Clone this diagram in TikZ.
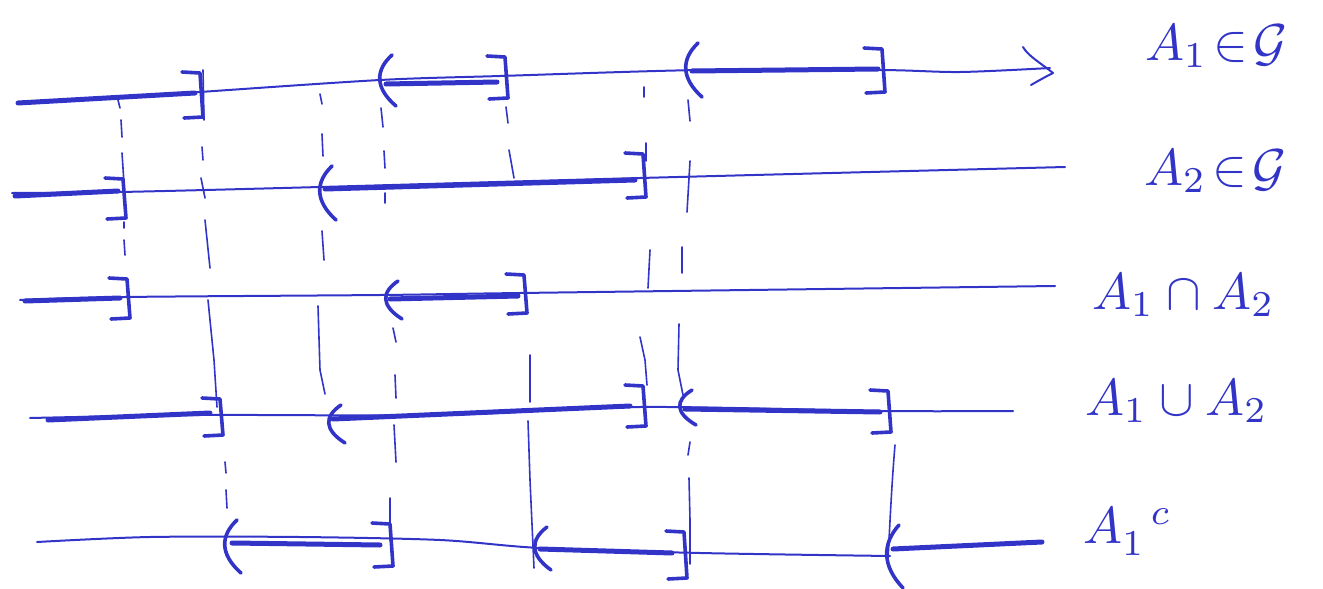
\documentclass[tikz,border=0pt]{standalone}
\usepackage{amsmath,amssymb}
\definecolor{ink}{RGB}{50,52,200}
\tikzset{
  base/.style={ink,line width=2pt,line cap=round,line join=round},
  heavy/.style={ink,line width=5pt,line cap=round,line join=round},
  brk/.style={ink,line width=3.6pt,line cap=round,line join=round},
  guide/.style={ink,line width=1.6pt,line cap=round,line join=round},
  lbl/.style={text=ink,inner sep=0pt,anchor=base west}
}
\newcommand\myrb[3]{\draw[brk] ({#1-18},#2) -- ({#1},{#2+1}) -- ({#1+3},#3) -- ({#1-16},{#3+1});}
\newcommand\mylb[3]{\draw[brk] ({#1+10},#2) .. controls ({#1-7},{#2+0.3*(#3-#2)}) and ({#1-7},{#2+0.65*(#3-#2)}) .. ({#1+14},#3);}
\newcommand\biglbl[1]{\scalebox{5.2}{$#1$}}
\begin{document}
\begin{tikzpicture}[x=1pt,y=-1pt]
\useasboundingbox (0,0) rectangle (1323,589);
% ---------- line 1 ----------
\draw[base] plot[smooth] coordinates {(18,103) (120,98) (200,92) (380,80) (500,76) (700,70) (880,70) (960,72) (1050,68)};
\draw[base] (1023,47) .. controls (1028,56) and (1042,64) .. (1053,73) .. controls (1045,77) and (1038,81) .. (1031,85);
\draw[heavy] (18,103) -- (195,93);
\draw[heavy] (386,84) -- (497,82);
\draw[heavy] (692,71) -- (878,69);
\myrb{200}{72}{117}
\draw[guide] (203,70) -- (204,120);
\mylb{382}{55}{106}
\myrb{505}{56}{98}
\mylb{688}{43}{97}
\myrb{882}{48}{92}
% ---------- line 2 ----------
\draw[base] plot[smooth] coordinates {(12,193) (120,192) (320,187) (640,178) (1065,167)};
\draw[heavy] (15,196) -- (118,191);
\draw[heavy] (325,189) -- (635,180);
\myrb{123}{178}{218}
\mylb{322}{166}{220}
\myrb{643}{153}{197}
% ---------- line 3 ----------
\draw[base] plot[smooth] coordinates {(20,300) (125,297) (380,295) (520,293) (1055,286)};
\draw[heavy] (25,301) -- (120,298);
\draw[heavy] (390,299) -- (518,296);
\myrb{127}{278}{318}
\mylb{388}{281}{319}
\myrb{524}{274}{313}
% ---------- line 4 ----------
\draw[base] plot[smooth] coordinates {(30,418) (200,415) (440,415) (640,407) (880,411) (1013,411)};
\draw[heavy] (48,420) -- (210,413);
\draw[heavy] (333,419) -- (630,406);
\draw[heavy] (685,409) -- (880,412);
\myrb{220}{398}{435}
\mylb{331}{405}{443}
\myrb{643}{385}{426}
\mylb{682}{390}{425}
\myrb{888}{390}{432}
% ---------- line 5 ----------
\draw[base] plot[smooth] coordinates {(37,542) (150,537) (300,537) (440,540) (540,548) (700,553) (890,556)};
\draw[heavy] (232,543) -- (380,545);
\draw[heavy] (540,549) -- (672,553);
\draw[heavy] (893,549) -- (1042,542);
\mylb{227}{520}{573}
\myrb{390}{523}{566}
\mylb{537}{527}{570}
\myrb{684}{531}{578}
\mylb{889}{525}{588}
% ---------- guides ----------
\draw[guide] (118,100) -- (120,108) (121,120) -- (122,137) (122,153) -- (124,183) (124,222) -- (124,228) (124,240) -- (125,255);
\draw[guide] (202,147) -- (203,160) (201,178) -- (205,198) (205,220) -- (210,268) (208,300) -- (214,360) -- (217,407) (225,462) -- (226,473) (226,490) -- (227,508);
\draw[guide] (320,94) -- (322,104) (322,134) -- (323,156) (322,231) -- (324,260) (318,306) -- (320,370) -- (325,394);
\draw[guide] (381,108) -- (383,127) (384,151) -- (385,168) (385,193) -- (385,203) (393,328) -- (396,342) (395,375) -- (396,398) (394,425) -- (396,462) (390,498) -- (390,540);
\draw[guide] (506,107) -- (508,123) (509,150) -- (514,178);
\draw[guide] (530,355) -- (530,402) (528,421) -- (530,480) -- (534,568);
\draw[guide] (644,87) -- (644,97) (646,143) -- (646,161) (650,250) -- (648,288) (640,337) -- (645,360) -- (647,385);
\draw[guide] (688,100) -- (690,121) (690,161) -- (687,212) (682,247) -- (682,273) (679,324) -- (678,370) -- (683,395) (690,442) -- (688,455) (689,478) -- (690,520) -- (690,564);
\draw[guide] (895,445) .. controls (892,480) and (890,520) .. (888,560);
% ---------- labels ----------
\node[lbl] (l1) at (1145,60) {\biglbl{A_1\!\in\!\mathcal{G}}};
\node[lbl] (l2) at (1144,185) {\biglbl{A_2\!\in\!\mathcal{G}}};
\node[lbl] (l3) at (1092,309) {\biglbl{A_1\cap A_2}};
\node[lbl] (l4) at (1085,415) {\biglbl{A_1\cup A_2}};
\node[lbl] (l5) at (1083,543) {\biglbl{A_1^{\,\,\,\,c}}};
\end{tikzpicture}
\end{document}
